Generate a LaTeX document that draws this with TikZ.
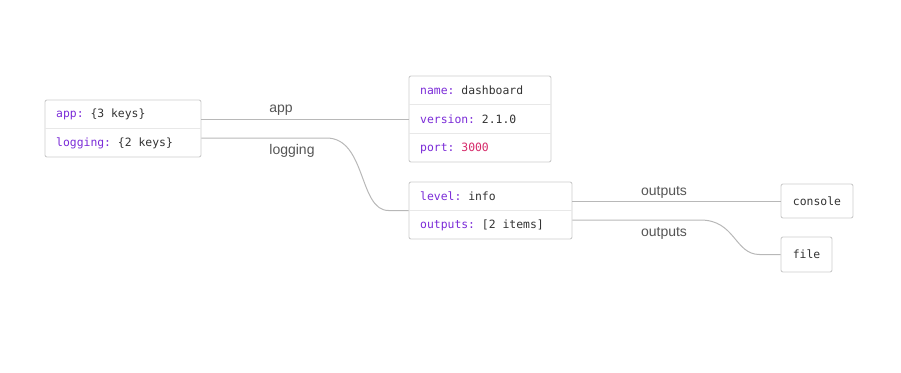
\documentclass[tikz,border=0pt]{standalone}
\usepackage{fontspec}
\setmainfont{Liberation Sans}
\setmonofont{DejaVu Sans Mono}
\usetikzlibrary{positioning}
\definecolor{treeborder}{HTML}{CCCCCC}
\definecolor{treedivider}{HTML}{E8E8E8}
\definecolor{treelink}{HTML}{B8B8B8}
\definecolor{treekey}{HTML}{7B2BD8}
\definecolor{treevalue}{HTML}{333333}
\definecolor{treenumber}{HTML}{D62A6A}
\definecolor{treelabel}{HTML}{555555}
\newcommand{\tkey}[1]{\textcolor{treekey}{#1}}

\begin{document}
\begin{tikzpicture}[
  x=1pt,
  y=-1pt,
  box/.style={draw=treeborder, line width=0.9pt, rounded corners=2pt,
              fill=white, inner sep=0pt},
  row/.style={anchor=west, inner sep=0pt, text=treevalue,
              font=\ttfamily\fontsize{11.4}{13}\selectfont},
  leaf/.style={box, text=treevalue,
               font=\ttfamily\fontsize{11.4}{13}\selectfont},
  divider/.style={treedivider, line width=0.8pt},
  link/.style={treelink, line width=1pt},
  linklabel/.style={text=treelabel, inner sep=0pt,
                    font=\fontsize{14}{16}\selectfont}
]
  % ---- fixed frame of the picture ----
  \useasboundingbox (0,0) rectangle (901,372);

  % ---- root object ----
  \node[box, minimum width=156pt, minimum height=57pt] (root) at (123,128.5) {};
  \draw[divider] ([xshift=0.5pt]root.west |- 0,128) -- ([xshift=-0.5pt]root.east |- 0,128);
  \node[row] (root-app) at (56,114) {\tkey{app:} \{3 keys\}};
  \node[row] (root-logging) at (56,143) {\tkey{logging:} \{2 keys\}};
  % edge ports sit 9.5pt above and below the middle of the box
  \coordinate (root-app-out) at ([yshift=9.5pt]root.east);
  \coordinate (root-logging-out) at ([yshift=-9.5pt]root.east);

  % ---- app object ----
  \node[box, minimum width=142pt, minimum height=86pt] (app) at (480,119) {};
  \draw[divider] ([xshift=0.5pt]app.west |- 0,104) -- ([xshift=-0.5pt]app.east |- 0,104);
  \draw[divider] ([xshift=0.5pt]app.west |- 0,133) -- ([xshift=-0.5pt]app.east |- 0,133);
  \node[row] (app-name) at (420,90) {\tkey{name:} dashboard};
  \node[row] (app-version) at (420,119) {\tkey{version:} 2.1.0};
  \node[row] (app-port) at (420,148) {\tkey{port:} \textcolor{treenumber}{3000}};

  % ---- logging object ----
  \node[box, minimum width=163pt, minimum height=57pt] (logging) at (490.5,210.5) {};
  \draw[divider] ([xshift=0.5pt]logging.west |- 0,210) -- ([xshift=-0.5pt]logging.east |- 0,210);
  \node[row] (logging-level) at (420,196) {\tkey{level:} info};
  \node[row] (logging-outputs) at (420,225) {\tkey{outputs:} [2 items]};
  \coordinate (logging-outputs-a) at ([yshift=9.5pt]logging.east);
  \coordinate (logging-outputs-b) at ([yshift=-9.5pt]logging.east);

  % ---- leaves ----
  \node[leaf, minimum width=72pt, minimum height=34pt] (console) at (817,201) {console};
  \node[leaf, minimum width=51pt, minimum height=35pt] (file) at (806.5,254.5) {file};

  % ---- connectors ----
  \draw[link] (root-app-out) -- (root-app-out -| app.west);
  \draw[link] (root-logging-out) -- ++(125,0)
    .. controls +(40,0) and +(-30,0) .. ([xshift=-20pt]logging.west)
    -- (logging.west);
  \draw[link] (logging-outputs-a) -- (logging-outputs-a -| console.west);
  \draw[link] (logging-outputs-b) -- ++(128,0)
    .. controls +(35,0) and +(-25,0) .. ([xshift=-21pt]file.west)
    -- (file.west);

  % ---- connector labels ----
  \node[linklabel] (lbl-app) at (281,110) {app};
  \node[linklabel] (lbl-logging) at (292,151) {logging};
  \node[linklabel] (lbl-console) at (664,192) {outputs};
  \node[linklabel] (lbl-file) at (664,233) {outputs};
\end{tikzpicture}
\end{document}
